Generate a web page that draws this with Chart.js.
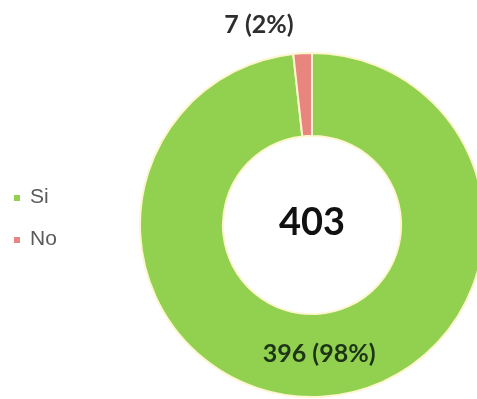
<!DOCTYPE html>
<html>
<head>
<meta charset="utf-8">
<script src="https://cdn.jsdelivr.net/npm/chart.js@4"></script>
<style>
  html, body { margin: 0; padding: 0; background: #ffffff; overflow: hidden; }
  #wrap { position: relative; width: 477px; height: 399px; }
</style>
</head>
<body>
<div id="wrap"><canvas id="chart" width="477" height="399"></canvas></div>
<script>
// Survey answers
const categories = ['Si', 'No'];
const counts = [396, 7];
const sliceColors = ['#92d050', '#e8857f'];

const total = counts.reduce((a, b) => a + b, 0);
const pct = v => Math.round(v / total * 100);
const sliceLabels = counts.map(v => `${v} (${pct(v)}%)`);

// Value labels, total in the hole and a small legend on the left
const annotate = {
  id: 'annotate',
  afterDatasetsDraw(chart) {
    const ctx = chart.ctx;
    const arcs = chart.getDatasetMeta(0).data;
    const cx = arcs[0].x, cy = arcs[0].y, outer = arcs[0].outerRadius;
    ctx.save();
    ctx.textAlign = 'center';
    ctx.textBaseline = 'middle';

    // big total in the centre
    ctx.fillStyle = '#111111';
    ctx.font = 'bold 38px Lato, "Open Sans", sans-serif';
    ctx.fillText(String(total), cx, cy - 2);

    // "Si" label sits inside its ring segment
    const p0 = arcs[0].getCenterPoint();
    ctx.fillStyle = '#1d3516';
    ctx.font = 'bold 25px Lato, "Open Sans", sans-serif';
    ctx.fillText(sliceLabels[0], p0.x, p0.y - 1);

    // "No" label sits above the ring, shifted to the left
    ctx.fillStyle = '#2e2e2e';
    ctx.fillText(sliceLabels[1], cx - 53, cy - outer - 28);

    // legend
    ctx.textAlign = 'left';
    ctx.font = '21px "Liberation Sans", Arial, sans-serif';
    const legendY = [195, 237];
    categories.forEach((name, i) => {
      ctx.fillStyle = sliceColors[i];
      ctx.fillRect(14, legendY[i], 6, 6);
      ctx.fillStyle = '#5a5a5a';
      ctx.fillText(name, 30, legendY[i] + 2);
    });
    ctx.restore();
  }
};

new Chart(document.getElementById('chart'), {
  type: 'doughnut',
  data: {
    labels: categories,
    datasets: [{
      data: counts,
      backgroundColor: sliceColors,
      borderColor: '#fdf6cf',
      borderWidth: 2,
      clip: false
    }]
  },
  options: {
    responsive: false,
    animation: false,
    radius: 172,
    cutout: '51.8%',
    layout: { padding: { left: 147, right: 0, top: 51, bottom: 0 } },
    plugins: {
      legend: { display: false },
      tooltip: { enabled: false }
    },
    events: []
  },
  plugins: [annotate]
});
</script>
</body>
</html>
